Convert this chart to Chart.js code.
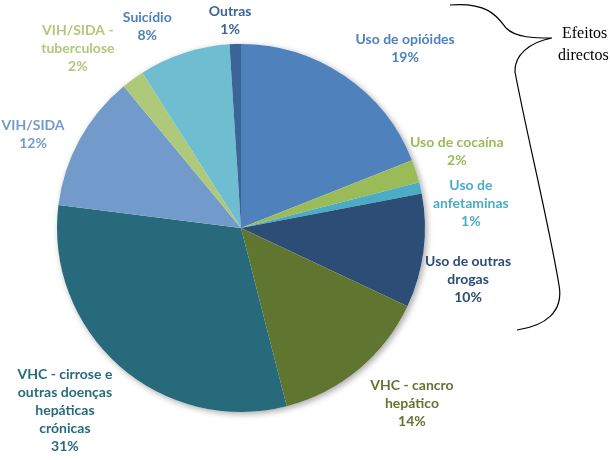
<!DOCTYPE html>
<html>
<head>
<meta charset="utf-8">
<script src="https://cdn.jsdelivr.net/npm/chart.js@4.4.1/dist/chart.umd.min.js"></script>
<style>
  html, body { margin: 0; padding: 0; background: #fff; }
  canvas { display: block; }
</style>
</head>
<body>
<canvas id="pieChart" width="610" height="460"></canvas>
<script>
// Categories (one entry per slice, split into label lines)
const categories = [
  ['Uso de opióides'],
  ['Uso de cocaína'],
  ['Uso de', 'anfetaminas'],
  ['Uso de outras', 'drogas'],
  ['VHC - cancro', 'hepático'],
  ['VHC - cirrose e', 'outras doenças', 'hepáticas', 'crónicas'],
  ['VIH/SIDA'],
  ['VIH/SIDA -', 'tuberculose'],
  ['Suicídio'],
  ['Outras']
];
const shares = [19, 2, 1, 10, 14, 31, 12, 2, 8, 1];
const sliceColors = ['#4f81bd', '#9bbb59', '#4bacc6', '#2c4d75', '#5f7530',
                     '#276a7c', '#729aca', '#afc97a', '#6fbdd1', '#3b6596'];
const labelColors = ['#4f81bd', '#9bbb59', '#4bacc6', '#2c4d75', '#5f7530',
                     '#276a7c', '#729aca', '#afc97a', '#4f81bd', '#3b6596'];
// label placement: [angle from top in degrees, distance as factor of radius]
const labelPolar = [[42.5, 1.32], [70.4, 1.245], [84, 1.256], [102.7, 1.265], [135.7, 1.33],
                    [223.9, 1.38], [294.3, 1.24], [317.8, 1.32], [335.1, 1.21], [357, 1.13]];

const shadowPlugin = {
  id: 'pieShadow',
  beforeDatasetsDraw(chart) {
    const arc = chart.getDatasetMeta(0).data[0];
    if (!arc) return;
    const ctx = chart.ctx;
    ctx.save();
    ctx.shadowColor = 'rgba(0,0,0,0.35)';
    ctx.shadowBlur = 6;
    ctx.shadowOffsetX = 2;
    ctx.shadowOffsetY = 2;
    ctx.beginPath();
    ctx.arc(arc.x, arc.y, arc.outerRadius, 0, Math.PI * 2);
    ctx.fillStyle = '#ffffff';
    ctx.fill();
    ctx.restore();
  }
};

const labelPlugin = {
  id: 'sliceLabels',
  afterDatasetsDraw(chart) {
    const ctx = chart.ctx;
    const meta = chart.getDatasetMeta(0);
    ctx.save();
    ctx.font = 'bold 14px Lato, "Open Sans", sans-serif';
    ctx.textAlign = 'center';
    ctx.textBaseline = 'middle';
    meta.data.forEach((arc, i) => {
      const [deg, f] = labelPolar[i];
      const a = deg * Math.PI / 180;
      const cx = arc.x + Math.sin(a) * arc.outerRadius * f;
      const cy = arc.y - Math.cos(a) * arc.outerRadius * f;
      const lines = categories[i].concat([shares[i] + '%']);
      const lh = 18;
      const y0 = cy - (lines.length - 1) * lh / 2;
      ctx.fillStyle = labelColors[i];
      lines.forEach((t, k) => ctx.fillText(t, cx, y0 + k * lh));
    });
    ctx.restore();
  }
};

const bracePlugin = {
  id: 'brace',
  afterDraw(chart) {
    const ctx = chart.ctx;
    ctx.save();
    ctx.strokeStyle = '#000';
    ctx.lineWidth = 1.2;
    ctx.beginPath();
    ctx.moveTo(450, 5);
    ctx.bezierCurveTo(490, 2, 498, 18, 506, 28);
    ctx.bezierCurveTo(516, 38, 535, 38, 552, 38);
    ctx.bezierCurveTo(530, 42, 514, 55, 515, 72);
    ctx.bezierCurveTo(528, 140, 548, 220, 559, 285);
    ctx.bezierCurveTo(564, 312, 545, 326, 517, 330);
    ctx.stroke();
    ctx.fillStyle = '#000';
    ctx.font = '16px "Liberation Serif", "DejaVu Serif", serif';
    ctx.textAlign = 'left';
    ctx.textBaseline = 'alphabetic';
    ctx.fillText('Efeitos', 562, 38);
    ctx.fillText('directos', 558, 60);
    ctx.restore();
  }
};

new Chart(document.getElementById('pieChart'), {
  type: 'pie',
  data: {
    labels: categories,
    datasets: [{
      data: shares,
      backgroundColor: sliceColors,
      borderWidth: 0
    }]
  },
  options: {
    responsive: false,
    animation: false,
    layout: { padding: { left: 57, right: 185, top: 44, bottom: 48 } },
    plugins: {
      legend: { display: false },
      tooltip: { enabled: false }
    }
  },
  plugins: [shadowPlugin, labelPlugin, bracePlugin]
});
</script>
</body>
</html>
